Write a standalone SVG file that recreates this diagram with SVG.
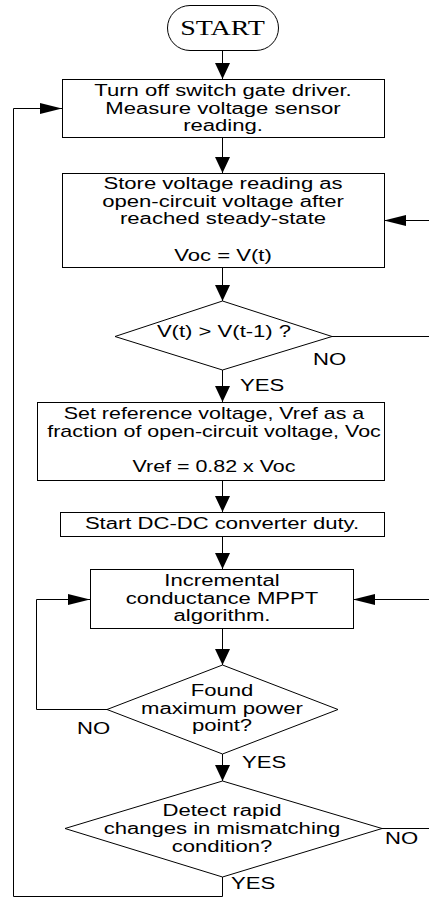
<svg xmlns="http://www.w3.org/2000/svg" width="429" height="899" viewBox="0 0 429 899">
<style>
.s{fill:#fff;stroke:#000;stroke-width:1}
.c{fill:none;stroke:#000;stroke-width:1}
.t{font-family:"Liberation Sans",Arial,sans-serif;font-size:16px;fill:#000;text-anchor:middle}
.l{font-family:"Liberation Sans",Arial,sans-serif;font-size:16px;fill:#000;text-anchor:start}
.st{font-family:"Liberation Serif","Times New Roman",serif;font-size:20px;fill:#000;text-anchor:middle}
</style>
<defs>
<marker id="av" markerUnits="userSpaceOnUse" markerWidth="16" markerHeight="15" refX="16" refY="7.5" orient="auto" viewBox="0 0 16 15"><path d="M0,0 L16,7.5 L0,15 Z" fill="#000"/></marker>
<marker id="ah" markerUnits="userSpaceOnUse" markerWidth="22" markerHeight="11" refX="22" refY="5.5" orient="auto" viewBox="0 0 22 11"><path d="M0,0 L22,5.5 L0,11 Z" fill="#000"/></marker>
</defs>
<g id="connectors">
<path class="c" d="M222.5,51 V79" marker-end="url(#av)"/>
<path class="c" d="M222.5,137 V173" marker-end="url(#av)"/>
<path class="c" d="M222.5,267 V301" marker-end="url(#av)"/>
<path class="c" d="M222.5,370 V402" marker-end="url(#av)"/>
<path class="c" d="M222.5,480 V512" marker-end="url(#av)"/>
<path class="c" d="M222.5,536 V569" marker-end="url(#av)"/>
<path class="c" d="M222.5,628 V665" marker-end="url(#av)"/>
<path class="c" d="M222.5,754 V781" marker-end="url(#av)"/>
<path class="c" d="M332,336.5 H429"/>
<path class="c" d="M429,220.5 H384" marker-end="url(#ah)"/>
<path class="c" d="M382,828.5 H429"/>
<path class="c" d="M429,599.5 H353" marker-end="url(#ah)"/>
<path class="c" d="M107,709.5 H36.5 V599.5 H90" marker-end="url(#ah)"/>
<path class="c" d="M222.5,877 V896.5 H13.5 V108.5 H62" marker-end="url(#ah)"/>
<text class="l" transform="matrix(1.38 0 0 1 313 0)" x="0" y="365">NO</text>
<text class="l" transform="matrix(1.38 0 0 1 240 0)" x="0" y="391">YES</text>
<text class="l" transform="matrix(1.38 0 0 1 77 0)" x="0" y="734">NO</text>
<text class="l" transform="matrix(1.38 0 0 1 242 0)" x="0" y="768">YES</text>
<text class="l" transform="matrix(1.38 0 0 1 385 0)" x="0" y="844">NO</text>
<text class="l" transform="matrix(1.38 0 0 1 231 0)" x="0" y="889">YES</text>
</g>
<g id="start">
<rect class="s" x="167.5" y="5.5" width="111" height="45" rx="22.5"/>
<text class="st" transform="matrix(1.4 0 0 1 222.5 0)" x="0" y="35">START</text>
</g>
<g id="turnoff">
<rect class="s" x="62.5" y="79.5" width="322" height="58"/>
<text class="t" transform="matrix(1.38 0 0 1 223 0)"><tspan x="0" y="96">Turn off switch gate driver.</tspan><tspan x="0" y="114">Measure voltage sensor</tspan><tspan x="0" y="131.5">reading.</tspan></text>
</g>
<g id="store">
<rect class="s" x="62.5" y="173.5" width="322" height="94"/>
<text class="t" transform="matrix(1.38 0 0 1 223 0)"><tspan x="0" y="189">Store voltage reading as</tspan><tspan x="0" y="207">open-circuit voltage after</tspan><tspan x="0" y="224.5">reached steady-state</tspan><tspan x="0" y="261">Voc = V(t)</tspan></text>
</g>
<g id="compare">
<polygon class="s" points="222.5,301 332,336.5 222.5,370 115,336.5"/>
<text class="t" transform="matrix(1.38 0 0 1 224 0)" x="0" y="337">V(t) &gt; V(t-1) ?</text>
</g>
<g id="setref">
<rect class="s" x="37.5" y="402.5" width="347" height="78"/>
<text class="t" transform="matrix(1.34 0 0 1 214 0)"><tspan x="0" y="419">Set reference voltage, Vref as a</tspan><tspan x="0" y="437">fraction of open-circuit voltage, Voc</tspan><tspan x="0" y="472">Vref = 0.82 x Voc</tspan></text>
</g>
<g id="startdc">
<rect class="s" x="60.5" y="512.5" width="324" height="24"/>
<text class="t" transform="matrix(1.38 0 0 1 222 0)" x="0" y="529">Start DC-DC converter duty.</text>
</g>
<g id="inc">
<rect class="s" x="90.5" y="569.5" width="263" height="59"/>
<text class="t" transform="matrix(1.38 0 0 1 222 0)"><tspan x="0" y="586">Incremental</tspan><tspan x="0" y="604">conductance MPPT</tspan><tspan x="0" y="621">algorithm.</tspan></text>
</g>
<g id="found">
<polygon class="s" points="222.5,665 338,709.5 222.5,754 107,709.5"/>
<text class="t" transform="matrix(1.38 0 0 1 222 0)"><tspan x="0" y="696.5">Found</tspan><tspan x="0" y="714.5">maximum power</tspan><tspan x="0" y="731.5">point?</tspan></text>
</g>
<g id="detect">
<polygon class="s" points="222.5,781 382,828.5 222.5,877 65,828.5"/>
<text class="t" transform="matrix(1.38 0 0 1 222 0)"><tspan x="0" y="816.5">Detect rapid</tspan><tspan x="0" y="834.5">changes in mismatching</tspan><tspan x="0" y="852.5">condition?</tspan></text>
</g>
</svg>
